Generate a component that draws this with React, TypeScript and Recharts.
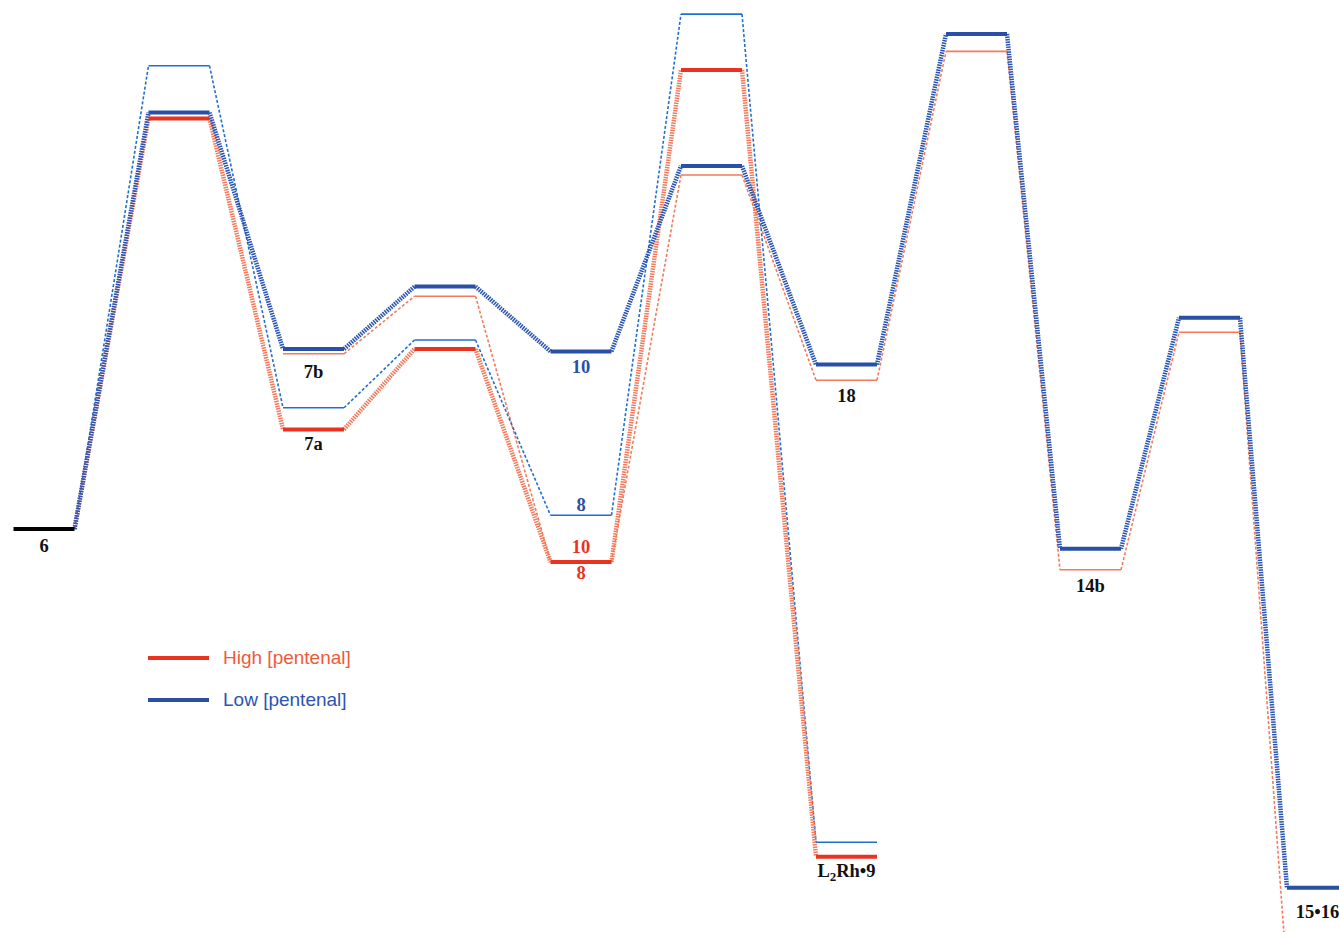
import { ComposedChart, Line, Scatter, XAxis, YAxis, Legend } from 'recharts';

// reaction coordinate of each stage (centre of the level bar)
const stageX = [0.44, 1.79, 3.135, 4.45, 5.81, 7.115, 8.465, 9.765, 10.905, 12.095, 13.175];
const HALF = 0.305;

// High [pentenal], favoured branch: 6 -> TS -> 7a -> TS -> 8 -> TS -> L2Rh•9
const highMainStages = [0, 1, 2, 3, 4, 5, 6];
const highMainE = [0, 34.2, 8.3, 15.0, -2.75, 38.25, -27.3];

// High [pentenal], other branch: 7b -> TS -> 10 -> TS -> 18 -> TS -> 14b -> TS -> 15•16
const highAltStages = [2, 3, 4, 5, 6, 7, 8, 9, 10];
const highAltE = [14.6, 19.4, -2.75, 29.5, 12.4, 39.8, -3.4, 16.4, -37.2];

// Low [pentenal], favoured branch: 6 -> TS -> 7b -> TS -> 10 -> TS -> 18 -> TS -> 14b -> TS -> 15•16
const lowMainStages = [0, 1, 2, 3, 4, 5, 6, 7, 8, 9, 10];
const lowMainE = [0, 34.7, 15.0, 20.2, 14.8, 30.25, 13.7, 41.25, -1.65, 17.6, -29.9];

// Low [pentenal], other branch: 6 -> TS -> 7a -> TS -> 8 -> TS -> L2Rh•9
const lowAltStages = [0, 1, 2, 3, 4, 5, 6];
const lowAltE = [0, 38.6, 10.1, 15.75, 1.15, 42.9, -26.1];

const legendLabels = ['High [pentenal]', 'Low [pentenal]'];

const RED = '#e9321f';
const RED_LIGHT = '#f37a5a';
const RED_HATCH = '#f27a5c';
const BLUE = '#2a4fa6';
const BLUE_LIGHT = '#1f6fd2';
const BLUE_HATCH = '#2652b0';

type Pt = { x: number; y: number | null };

function levels(stages: number[], es: number[], skipFirst = false): Pt[] {
  const out: Pt[] = [];
  stages.forEach((s, i) => {
    if (skipFirst && i === 0) return;
    out.push({ x: stageX[s] - HALF, y: es[i] });
    out.push({ x: stageX[s] + HALF, y: es[i] });
    out.push({ x: stageX[s] + HALF, y: null });
  });
  return out;
}

function connectors(stages: number[], es: number[]): Pt[] {
  const out: Pt[] = [];
  for (let i = 0; i < stages.length - 1; i++) {
    out.push({ x: stageX[stages[i]] + HALF, y: es[i] });
    out.push({ x: stageX[stages[i + 1]] - HALF, y: es[i + 1] });
    out.push({ x: stageX[stages[i + 1]] - HALF, y: null });
  }
  return out;
}

// labels: stage, level energy they hang from, pixel offset of baseline
const labels = [
  { text: '6', stage: 0, y: 0, dy: 23, color: '#111' },
  { text: '7b', stage: 2, y: 15.0, dy: 29, color: '#111' },
  { text: '7a', stage: 2, y: 8.3, dy: 21, color: '#111' },
  { text: '10', stage: 4, y: 14.8, dy: 22, color: BLUE },
  { text: '8', stage: 4, y: 1.15, dy: -4, color: BLUE },
  { text: '10', stage: 4, y: -2.75, dy: -9, color: RED },
  { text: '8', stage: 4, y: -2.75, dy: 17, color: RED },
  { text: '18', stage: 6, y: 13.7, dy: 37, color: '#111' },
  { text: 'L2Rh•9', stage: 6, y: -27.3, dy: 20, color: '#111', sub: true },
  { text: '14b', stage: 8, y: -3.4, dy: 22, color: '#111' },
  { text: '15•16', stage: 10, y: -29.9, dy: 30, color: '#111' },
];

const labelData = labels.map(l => ({ ...l, x: stageX[l.stage] }));

const renderLabel = (props: any) => {
  const { cx, cy, payload } = props;
  const common = {
    x: cx,
    y: cy + payload.dy,
    textAnchor: 'middle' as const,
    fill: payload.color,
    fontFamily: '"Liberation Serif", "Times New Roman", serif',
    fontWeight: 700,
    fontSize: 18.5,
  };
  if (payload.sub) {
    return (
      <text {...common}>
        L<tspan dy={4} fontSize={13}>2</tspan>
        <tspan dy={-4}>Rh•9</tspan>
      </text>
    );
  }
  return <text {...common}>{payload.text}</text>;
};

const renderLegend = () => (
  <div>
    {legendLabels.map((name, i) => {
      const c = i === 0 ? RED : BLUE;
      const tc = i === 0 ? '#ef5a38' : '#2a55b3';
      return (
        <div key={name} style={{ display: 'flex', alignItems: 'center', height: 24, marginBottom: 18 }}>
          <div style={{ width: 61, height: 4, background: c }} />
          <span style={{ marginLeft: 14, color: tc, fontFamily: '"Liberation Sans", Arial, sans-serif', fontSize: 19 }}>
            {name}
          </span>
        </div>
      );
    })}
  </div>
);

export default function App() {
  const common = { type: 'linear' as const, dataKey: 'y', dot: false, activeDot: false, isAnimationActive: false, connectNulls: false };
  return (
    <div style={{ position: 'absolute', left: 0, top: 0, background: '#fff' }}>
      <ComposedChart width={1339} height={932} margin={{ top: 0, right: 0, bottom: 0, left: 0 }}>
        <XAxis type="number" dataKey="x" domain={[0, 13.39]} allowDataOverflow hide />
        <YAxis type="number" dataKey="y" domain={[-33.58, 44.08]} allowDataOverflow hide />

        {/* connectors */}
        <Line {...common} data={connectors(highAltStages, highAltE)} stroke={RED_LIGHT} strokeWidth={1.6} strokeDasharray="3 2" />
        <Line {...common} data={connectors(lowAltStages, lowAltE)} stroke={BLUE_LIGHT} strokeWidth={1.6} strokeDasharray="3 2" />
        <Line {...common} data={connectors(highMainStages, highMainE)} stroke={RED_HATCH} strokeWidth={4.5} strokeDasharray="1.5 1" />
        <Line {...common} data={connectors(lowMainStages, lowMainE)} stroke={BLUE_HATCH} strokeWidth={4.5} strokeDasharray="1.5 1" />

        {/* energy levels */}
        <Line {...common} data={levels(highAltStages, highAltE)} stroke={RED_LIGHT} strokeWidth={1.6} />
        <Line {...common} data={levels(lowAltStages, lowAltE, true)} stroke={BLUE_LIGHT} strokeWidth={1.6} />
        <Line {...common} data={levels(highMainStages, highMainE, true)} stroke={RED} strokeWidth={4} />
        <Line {...common} data={levels(lowMainStages, lowMainE, true)} stroke={BLUE} strokeWidth={4} />
        <Line {...common} data={levels([0], [0])} stroke="#000" strokeWidth={4} />

        <Scatter data={labelData} dataKey="y" shape={renderLabel} isAnimationActive={false} />

        <Legend
          layout="horizontal"
          verticalAlign="middle"
          align="center"
          content={renderLegend}
          wrapperStyle={{ left: 148, top: 646, width: 280 }}
        />
      </ComposedChart>
    </div>
  );
}
